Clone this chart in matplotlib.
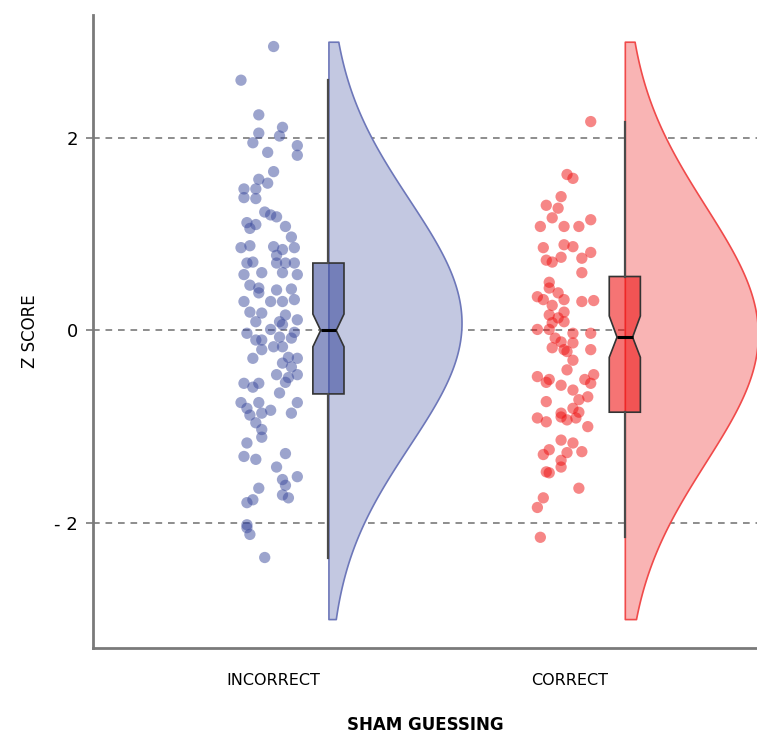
import numpy as np
import matplotlib.pyplot as plt

# categories and colours
categories = ['INCORRECT', 'CORRECT']
point_colors = ['#3b4a9c', '#ee0f0f']
violin_fill = ['#c3c8e1', '#f9b4b4']
violin_edge = ['#6d77b9', '#f04a4a']

# z scores, with horizontal jitter offsets
incorrect_z = [2.95, 2.60, 2.24, 2.11, 2.05, 2.02, 1.95, 1.92, 1.85, 1.82, 1.65, 1.57, 1.53, 1.47, 1.47,
               1.38, 1.37, 1.23, 1.18, 1.20, 1.12, 1.10, 1.06, 1.08, 0.97, 0.86, 0.88, 0.87, 0.84, 0.86,
               0.71, 0.70, 0.78, 0.70, 0.70, 0.70, 0.58, 0.60, 0.60, 0.58, 0.47, 0.44, 0.42, 0.43, 0.30,
               0.30, 0.30, 0.32, 0.39, 0.19, 0.18, 0.16, 0.11, 0.09, 0.09, 0.06, 0.01, -0.03, -0.02, -0.10,
               -0.10, -0.07, -0.08, -0.20, -0.17, -0.17, -0.29, -0.28, -0.29, -0.34, -0.38, -0.46, -0.46, -0.49,
               -0.55, -0.59, -0.55, -0.54, -0.65, -0.75, -0.81, -0.75, -0.83, -0.88, -0.86, -0.75, -0.86, -0.96,
               -1.03, -1.11, -1.17, -1.31, -1.34, -1.28, -1.42, -1.55, -1.61, -1.52, -1.71, -1.74, -1.64, -1.76,
               -1.79, -2.02, -2.05, -2.12, -2.36]
incorrect_jit = [0.00, -0.11, -0.05, 0.03, -0.05, 0.02, -0.07, 0.08, -0.02, 0.08, 0.00, -0.05, -0.02, -0.10, -0.06,
                 -0.10, -0.06, -0.03, 0.01, -0.01, -0.09, -0.06, -0.08, 0.04, 0.06, -0.11, -0.08, 0.00, 0.03, 0.07,
                 -0.07, -0.09, 0.01, 0.04, 0.07, 0.01, -0.10, -0.04, 0.03, 0.08, -0.08, -0.05, 0.01, 0.06, -0.10,
                 -0.01, 0.03, 0.07, -0.05, -0.08, -0.04, 0.04, 0.08, -0.06, 0.02, 0.03, -0.01, -0.09, 0.07, -0.06,
                 -0.04, 0.02, 0.06, -0.04, 0.00, 0.03, -0.07, 0.05, 0.08, 0.03, 0.06, 0.01, 0.08, 0.05,
                 -0.10, -0.07, -0.05, 0.04, 0.02, -0.11, -0.09, -0.05, -0.01, -0.08, -0.04, 0.08, 0.06, -0.06,
                 -0.04, -0.04, -0.09, -0.10, -0.06, 0.04, 0.01, 0.03, 0.04, 0.08, 0.03, 0.05, -0.05, -0.07,
                 -0.09, -0.09, -0.09, -0.08, -0.03]

correct_z = [2.17, 1.62, 1.58, 1.39, 1.30, 1.27, 1.17, 1.15, 1.08, 1.08, 1.08, 0.86, 0.89, 0.87, 0.81,
             0.76, 0.75, 0.73, 0.71, 0.60, 0.50, 0.44, 0.39, 0.35, 0.32, 0.32, 0.30, 0.31, 0.26, 0.19,
             0.16, 0.13, 0.09, 0.08, 0.01, 0.01, -0.03, -0.03, -0.08, -0.12, -0.13, -0.18, -0.20, -0.22,
             -0.20, -0.31, -0.41, -0.48, -0.54, -0.51, -0.57, -0.62, -0.51, -0.46, -0.55, -0.69, -0.72, -0.74,
             -0.81, -0.86, -0.85, -0.91, -0.95, -0.90, -0.93, -0.91, -1.00, -1.14, -1.17, -1.24, -1.29, -1.27,
             -1.35, -1.26, -1.42, -1.47, -1.48, -1.64, -1.74, -1.84, -2.15]
correct_jit = [0.07, -0.01, 0.01, -0.03, -0.08, -0.04, -0.06, 0.07, -0.10, -0.02, 0.03, -0.09, -0.02, 0.01, 0.07,
               -0.03, 0.04, -0.08, -0.06, 0.04, -0.07, -0.07, -0.04, -0.11, -0.09, -0.02, 0.04, 0.08, -0.06, -0.02,
               -0.07, -0.04, -0.02, -0.06, -0.11, -0.07, 0.01, 0.07, -0.05, -0.03, 0.01, -0.06, -0.02, -0.01,
               0.07, 0.01, -0.01, -0.11, -0.08, -0.07, -0.03, 0.01, 0.05, 0.08, 0.07, 0.06, 0.03, -0.08,
               0.01, -0.03, 0.03, -0.11, -0.08, -0.03, -0.01, 0.02, 0.06, -0.03, 0.01, -0.07, -0.09, -0.01,
               -0.03, 0.04, -0.03, -0.08, -0.07, 0.03, -0.09, -0.11, -0.10]

# box summaries
box_q1 = [-0.66, -0.85]
box_med = [0.00, -0.07]
box_q3 = [0.70, 0.56]
box_whislo = [-2.36, -2.15]
box_whishi = [2.60, 2.17]
box_cilo = [-0.17, -0.28]
box_cihi = [0.17, 0.15]

# smoothed density shape (centre, spread), drawn from -3 to 3
violin_center = [0.08, -0.04]
violin_spread = [1.28, 1.33]

data_z = [incorrect_z, correct_z]
data_jit = [incorrect_jit, correct_jit]

fig = plt.figure(figsize=(7.57, 7.38), dpi=100)
ax = fig.add_axes([0.123, 0.122, 0.877, 0.858])
plt.rcParams['font.family'] = ['Open Sans', 'DejaVu Sans']

for y in [-2, 0, 2]:
    ax.axhline(y, color='#7a7a7a', lw=1.2, ls=(0, (4, 3.5)), zorder=0)

offset = 0.185
grid = np.linspace(-3, 3, 300)
for i in range(2):
    z = np.array(data_z[i])
    dens = np.exp(-0.5 * ((grid - violin_center[i]) / violin_spread[i]) ** 2)
    dens = dens / dens.max() * 0.449
    base = i + offset
    ax.fill_betweenx(grid, base, base + dens, facecolor=violin_fill[i],
                     edgecolor=violin_edge[i], lw=1.2, zorder=1)
    ax.scatter(i + np.array(data_jit[i]), z, s=66, color=point_colors[i],
               alpha=0.5, edgecolors='none', zorder=3)

stats = []
for i in range(2):
    stats.append(dict(med=box_med[i], q1=box_q1[i], q3=box_q3[i],
                      whislo=box_whislo[i], whishi=box_whishi[i],
                      cilo=box_cilo[i], cihi=box_cihi[i], fliers=[]))
bp = ax.bxp(stats, positions=[offset, 1 + offset], widths=0.105, shownotches=True,
            patch_artist=True, showcaps=False, showfliers=False,
            boxprops=dict(edgecolor='#333333', lw=1.2),
            whiskerprops=dict(color='#4a4a4a', lw=1.6),
            medianprops=dict(color='black', lw=2.2), zorder=2)
for patch, c in zip(bp['boxes'], point_colors):
    patch.set_facecolor((*plt.matplotlib.colors.to_rgb(c), 0.58))

ax.set_xlim(-0.609, 1.631)
ax.set_ylim(-3.30, 3.28)
ax.set_xticks([0, 1])
ax.set_xticklabels(categories, fontsize=11.5)
ax.set_yticks([-2, 0, 2])
ax.set_yticklabels(['- 2', '0', '2'], fontsize=13)
ax.tick_params(axis='x', length=0, pad=18)
ax.tick_params(axis='y', length=5, width=1.2, color='#7a7a7a', pad=6)
for s in ['top', 'right']:
    ax.spines[s].set_visible(False)
for s in ['left', 'bottom']:
    ax.spines[s].set_color('#7a7a7a')
    ax.spines[s].set_linewidth(2)

ax.set_ylabel('Z SCORE', fontsize=12, labelpad=11)
ax.set_xlabel('SHAM GUESSING', fontsize=12, fontweight='bold', labelpad=20)

plt.savefig('out.png', dpi=100)
